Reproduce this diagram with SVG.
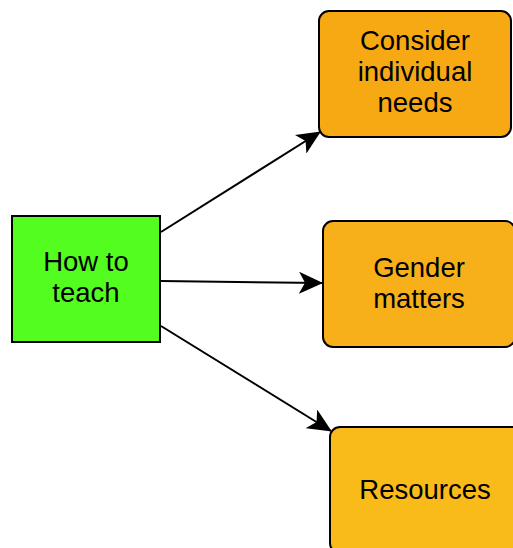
<svg xmlns="http://www.w3.org/2000/svg" width="513" height="548" viewBox="0 0 513 548">
  <style>
    .lbl { font-family: "Liberation Sans", Arial, sans-serif; font-size: 27.5px; fill: #000; text-anchor: middle; }
    .box { stroke: #000; stroke-width: 2; }
    .edge { stroke: #000; stroke-width: 2; fill: none; marker-end: url(#arrow); }
  </style>
  <defs>
    <marker id="arrow" markerUnits="userSpaceOnUse" markerWidth="24" markerHeight="22" viewBox="0 0 24 22" refX="23" refY="11" orient="auto">
      <path d="M0,0 L24,11 L0,22 L6,11 Z" fill="#000"/>
    </marker>
  </defs>

  <g id="connectors">
    <line class="edge" x1="161" y1="232" x2="320" y2="132"/>
    <line class="edge" x1="161" y1="281" x2="322" y2="283"/>
    <line class="edge" x1="161" y1="326" x2="331" y2="431"/>
  </g>

  <g id="how-to-teach">
    <rect class="box" x="12" y="216" width="148" height="126" fill="#52FD1F"/>
    <text class="lbl" x="86" y="271">How to</text>
    <text class="lbl" x="86" y="302">teach</text>
  </g>

  <g id="consider-individual-needs">
    <rect class="box" x="319" y="11" width="192" height="126" rx="10" fill="#F6A913"/>
    <text class="lbl" x="415" y="50">Consider</text>
    <text class="lbl" x="415" y="81">individual</text>
    <text class="lbl" x="415" y="112">needs</text>
  </g>

  <g id="gender-matters">
    <rect class="box" x="323" y="221" width="192" height="126" rx="10" fill="#F8B01A"/>
    <text class="lbl" x="419" y="277">Gender</text>
    <text class="lbl" x="419" y="308">matters</text>
  </g>

  <g id="resources">
    <rect class="box" x="330" y="427" width="192" height="126" rx="10" fill="#F9BB19"/>
    <text class="lbl" x="425" y="499">Resources</text>
  </g>
</svg>
